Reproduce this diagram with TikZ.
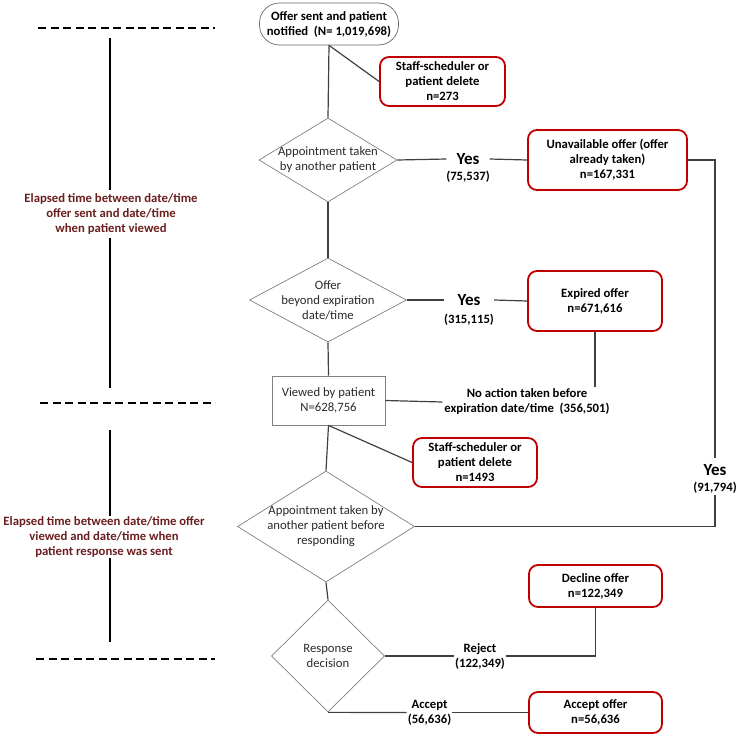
\documentclass[tikz,border=0pt]{standalone}
\usepackage{fontspec}
\setmainfont{Carlito}
\usetikzlibrary{shapes.geometric}
\definecolor{boxred}{HTML}{C00000}
\definecolor{linegray}{HTML}{404040}
\definecolor{diagray}{HTML}{808080}
\definecolor{txtgray}{HTML}{2A2A2A}
\definecolor{labred}{HTML}{6B1E1E}
\begin{document}
\begin{tikzpicture}[x=1pt,y=-1pt,
  redbox/.style={draw=boxred, line width=1.8pt, rounded corners=9pt, align=center,
    font=\bfseries\fontsize{12.7}{15}\selectfont, inner sep=0pt},
  startbox/.style={draw=diagray!80!black, line width=0.7pt, rounded corners=20pt, align=center,
    font=\bfseries\fontsize{12.7}{15}\selectfont, inner sep=0pt, minimum width=139pt, minimum height=42pt},
  viewbox/.style={draw=diagray, line width=0.8pt, align=center, text=txtgray,
    font=\fontsize{12.7}{15}\selectfont, inner sep=0pt, minimum width=113pt, minimum height=49pt},
  dia/.style={diamond, draw=diagray, line width=0.7pt, inner sep=0pt},
  dtext/.style={align=center, font=\fontsize{12.7}{15}\selectfont, text=txtgray, inner sep=0pt},
  yeslab/.style={font=\bfseries\fontsize{17}{19}\selectfont, inner sep=0pt},
  cnt/.style={font=\bfseries\fontsize{12.7}{15}\selectfont, inner sep=1pt, align=center},
  conn/.style={draw=linegray, line width=1.2pt},
  vline/.style={draw=black, line width=1.2pt},
  dashline/.style={draw=black, line width=1.4pt, dash pattern=on 8pt off 4.5pt},
  sidelab/.style={font=\bfseries\fontsize{12.7}{15}\selectfont, text=labred, align=center}
]
\useasboundingbox (0,0) rectangle (739,739);

% main column
\node[startbox] (start) at (329,24) {Offer sent and patient\\notified~~(N= 1,019,698)};
\node[redbox, minimum width=125pt, minimum height=49pt] (del1) at (442.5,81.5) {Staff-scheduler or\\patient delete\\n=273};

\node[dia, minimum width=138pt, minimum height=84pt] (d1) at (328,160) {};
\node[dtext] (d1t) at (d1) {Appointment taken\\by another patient};
\node[yeslab, minimum width=43pt] (yes1) at (468,159) {Yes};
\node[cnt] (c1) at (468,177) {(75,537)};
\node[redbox, minimum width=159pt, minimum height=60pt] (unav) at (607.5,160) {Unavailable offer (offer\\already taken)\\n=167,331};

\node[dia, minimum width=157pt, minimum height=84pt] (d2) at (328,300) {};
\node[dtext] (d2t) at (d2) {Offer\\beyond expiration\\date/time};
\node[yeslab, minimum width=50pt] (yes2) at (469,300) {Yes};
\node[cnt] (c2) at (469,320) {(315,115)};
\node[redbox, minimum width=134pt, minimum height=60pt] (exp) at (595,301) {Expired offer\\n=671,616};

\node[viewbox] (view) at (328.5,400.5) {Viewed by patient\\N=628,756};
\node[cnt, inner sep=2pt] (noact) at (527,402) {No action taken before\\expiration date/time~~(356,501)};
\node[redbox, minimum width=124pt, minimum height=49pt] (del2) at (475,462.5) {Staff-scheduler or\\patient delete\\n=1493};

\node[dia, minimum width=177pt, minimum height=111pt] (d3) at (326,526.5) {};
\node[dtext] (d3t) at (d3) {Appointment taken by\\another patient before\\responding};
\node[yeslab, inner ysep=6pt] (yes3) at (715,470) {Yes};
\node[cnt] (c3) at (715,488) {(91,794)};

\node[dia, minimum width=113pt, minimum height=112pt] (d4) at (328,656) {};
\node[dtext] (d4t) at (d4) {Response\\decision};
\node[cnt] (rej) at (480,656) {Reject\\(122,349)};
\node[redbox, minimum width=133pt, minimum height=42pt] (dec) at (595.5,586) {Decline offer\\n=122,349};
\node[cnt] (accl) at (429.5,712.5) {Accept\\(56,636)};
\node[redbox, minimum width=133pt, minimum height=41pt] (acc) at (595.5,712.5) {Accept offer\\n=56,636};

% connectors
\draw[conn] (start.south) -- (d1.north);
\draw[conn] (start.south) -- (del1.west);
\draw[conn] (d1.east) -- (yes1.west);
\draw[conn] (yes1.east) -- (unav.west);
\draw[conn] (d1.south) -- (d2.north);
\draw[conn] (d2.east) -- (yes2.west);
\draw[conn] (yes2.east) -- (exp.west);
\draw[conn] (d2.south) -- (view.north);
\draw[conn] (view.east) -- (noact.west);
\draw[conn] (exp.south) -- (exp.south |- noact.north);
\draw[conn] (view.south) -- (del2.west);
\draw[conn] (view.south) -- (d3.north);
\draw[conn] (unav.east) -| (yes3.north);
\draw[conn] (c3.south) |- (d3.east);
\draw[conn] (d3.south) -- (d4.north);
\draw[conn] (d4.east) -- (rej.west);
\draw[conn] (rej.east) -| (dec.south);
\draw[conn] (d4.south) -- (accl.west);
\draw[conn] (accl.east) -- (acc.west);

% left side
\draw[dashline] (38,28) -- (215,28);
\draw[dashline] (40,403) -- (215,403);
\draw[dashline] (36,659) -- (215,659);

\node[sidelab, inner sep=3pt] (lab1) at (111,214) {Elapsed time between date/time\\offer sent and date/time\\when patient viewed};
\node[sidelab, inner sep=0pt] (lab2) at (104,537) {Elapsed time between date/time offer\\viewed and date/time when\\patient response was sent};
\coordinate (v1t) at (110,38);
\coordinate (v1b) at (110,388);
\coordinate (v2t) at (110,430);
\coordinate (v2b) at (110,642);
\draw[vline] (v1t) -- (v1t |- lab1.north);
\draw[vline] (v1b) -- (v1b |- lab1.south);
\draw[vline] (v2t) -- (v2t |- lab2.north);
\draw[vline] (v2b) -- (v2b |- lab2.south);
\end{tikzpicture}
\end{document}
